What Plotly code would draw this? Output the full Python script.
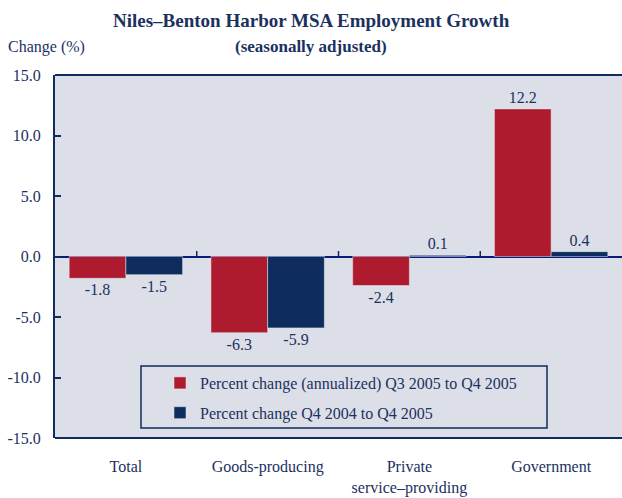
import plotly.graph_objects as go

categories = ["Total", "Goods-producing", "Private<br>service–providing", "Government"]
q3_q4_2005 = [-1.8, -6.3, -2.4, 12.2]
q4_2004_q4_2005 = [-1.5, -5.9, 0.1, 0.4]
series_names = ["Percent change (annualized) Q3 2005 to Q4 2005",
                "Percent change Q4 2004 to Q4 2005"]
ytick_vals = [15, 10, 5, 0, -5, -10, -15]
ytick_text = ["15.0", "10.0", "5.0", "0.0", "-5.0", "-10.0", "-15.0"]

RED = "#AE1B2E"
NAVY = "#0E2D5E"
TXT = "#1B3160"
BG = "#DCDFE8"
FONT = "Liberation Serif"
FS = 16

fig = go.Figure()
fig.add_trace(go.Bar(x=categories, y=q3_q4_2005, name=series_names[0], marker_color=RED,
                     text=[f"{v:.1f}" for v in q3_q4_2005], textposition="outside",
                     textfont=dict(family=FONT, size=FS, color=TXT), cliponaxis=False,
                     legendgroup="a"))
fig.add_trace(go.Bar(x=categories, y=q4_2004_q4_2005, name=series_names[1], marker_color=NAVY,
                     text=[f"{v:.1f}" for v in q4_2004_q4_2005], textposition="outside",
                     textfont=dict(family=FONT, size=FS, color=TXT), cliponaxis=False,
                     legendgroup="b"))

shapes = []
for xb in [0.5, 1.5, 2.5]:
    shapes.append(dict(type="line", xref="x", yref="y", x0=xb, x1=xb, y0=0, y1=0.45,
                       line=dict(color=NAVY, width=1.5)))
# legend box
shapes.append(dict(type="rect", xref="paper", yref="paper",
                   x0=(141-55)/567, x1=(547-55)/567, y0=(438-428)/363, y1=(438-366)/363,
                   line=dict(color=NAVY, width=1.5), fillcolor="rgba(0,0,0,0)"))
# top and bottom border lines
shapes.append(dict(type="line", xref="paper", yref="paper", x0=0, x1=1, y0=1, y1=1,
                   line=dict(color=NAVY, width=2)))
shapes.append(dict(type="line", xref="paper", yref="paper", x0=0, x1=1, y0=0, y1=0,
                   line=dict(color=NAVY, width=2)))

fig.update_layout(
    width=622, height=498,
    margin=dict(l=55, r=0, t=75, b=60),
    paper_bgcolor="white", plot_bgcolor=BG,
    barmode="group", bargap=0.2, bargroupgap=0,
    font=dict(family=FONT, size=FS, color=TXT),
    showlegend=True,
    legend=dict(x=(160-55)/567, y=(438-366)/363, xanchor="left", yanchor="top",
                bgcolor="rgba(0,0,0,0)", borderwidth=0,
                font=dict(family=FONT, size=FS, color=TXT),
                traceorder="grouped", tracegroupgap=6),
    shapes=shapes,
    annotations=[
        dict(text="<b>Niles–Benton Harbor MSA Employment Growth</b>", xref="paper", yref="paper",
             x=(311-55)/567, y=1, yshift=55, showarrow=False, xanchor="center", yanchor="middle",
             font=dict(family=FONT, size=19, color=TXT)),
        dict(text="<b>(seasonally adjusted)</b>", xref="paper", yref="paper",
             x=(311-55)/567, y=1, yshift=29, showarrow=False, xanchor="center", yanchor="middle",
             font=dict(family=FONT, size=17, color=TXT)),
        dict(text="Change (%)", xref="paper", yref="paper",
             x=-55/567, y=1, yshift=28, showarrow=False, xanchor="left", yanchor="middle",
             xshift=6, font=dict(family=FONT, size=FS, color=TXT)),
    ],
)
fig.update_xaxes(showline=False, ticks="outside", ticklen=14, tickcolor="rgba(0,0,0,0)",
                 tickfont=dict(family=FONT, size=FS, color=TXT), range=[-0.5, 3.5])
fig.update_yaxes(range=[-15, 15], tickvals=ytick_vals, ticktext=ytick_text,
                 showgrid=False, showline=True, linecolor=NAVY, linewidth=2, mirror=False,
                 ticks="inside", ticklen=6, tickwidth=2, tickcolor=NAVY,
                 zeroline=True, zerolinecolor="#0A1A7A", zerolinewidth=2,
                 tickfont=dict(family=FONT, size=FS, color=TXT), ticklabelstandoff=9)

fig.write_html("out.html")
